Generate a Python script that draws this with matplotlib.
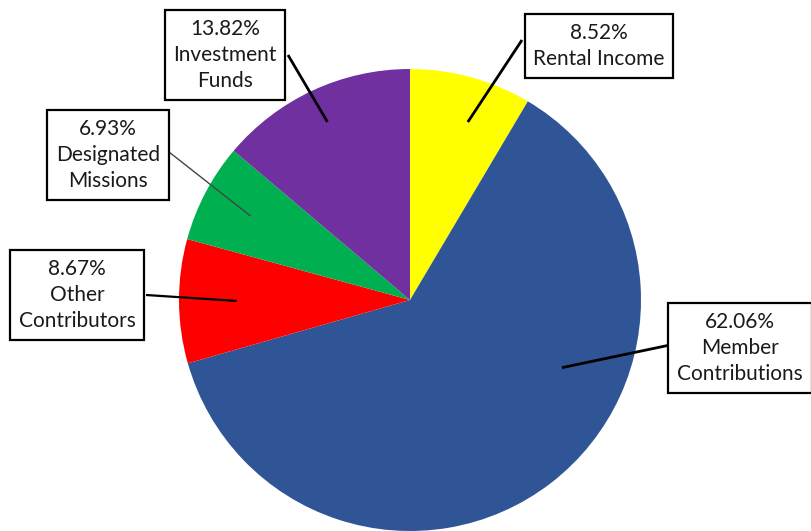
import numpy as np
import matplotlib.pyplot as plt

# income shares, clockwise from 12 o'clock
labels = ["Rental Income", "Member\nContributions", "Other\nContributors",
          "Designated\nMissions", "Investment\nFunds"]
shares = [8.52, 62.06, 8.67, 6.93, 13.82]
colors = ["#FFFF00", "#2F5597", "#FF0000", "#00B050", "#7030A0"]

# label box centres (pixels, y from top), anchor angle override / radius fraction
box_pos = [(599, 46), (740, 348), (77, 295), (108, 155), (225, 55)]
anchor_r = [0.81, 0.72, 0.75, 0.78, 0.85]
anchor_ang = [72, -24, None, None, None]
line_start = [(522, 40), (670, 345), (146, 295), (169, 152), (288, 55)]
line_style = [(2.0, "black"), (2.0, "black"), (1.6, "black"), (1.0, "#444444"), (2.0, "black")]

W, H = 812, 531
fig = plt.figure(figsize=(W / 100, H / 100), dpi=100)
ax = fig.add_axes([0, 0, 1, 1])

cx, cy, r = 410, H - 300, 231
wedges, _ = ax.pie(shares, colors=colors, startangle=90, counterclock=False,
                   center=(cx, cy), radius=r, wedgeprops=dict(linewidth=0))

for i, w in enumerate(wedges):
    ang = anchor_ang[i] if anchor_ang[i] is not None else (w.theta1 + w.theta2) / 2
    ax_ = cx + anchor_r[i] * r * np.cos(np.radians(ang))
    ay_ = cy + anchor_r[i] * r * np.sin(np.radians(ang))
    sx, sy = line_start[i]
    lw, lc = line_style[i]
    ax.plot([sx, ax_], [H - sy, ay_], color=lc, lw=lw, solid_capstyle="butt", zorder=3)
    bx, by = box_pos[i]
    ax.text(bx, H - by, f"{shares[i]:.2f}%\n{labels[i]}", ha="center", va="center",
            fontsize=15, family="Lato", color="#1a1a1a", linespacing=1.4, zorder=4,
            bbox=dict(boxstyle="square,pad=0.42", fc="white", ec="black", lw=1.6))

ax.set_xlim(0, W)
ax.set_ylim(0, H)
ax.set_aspect("auto")
ax.axis("off")
fig.savefig("out.png", dpi=100)
